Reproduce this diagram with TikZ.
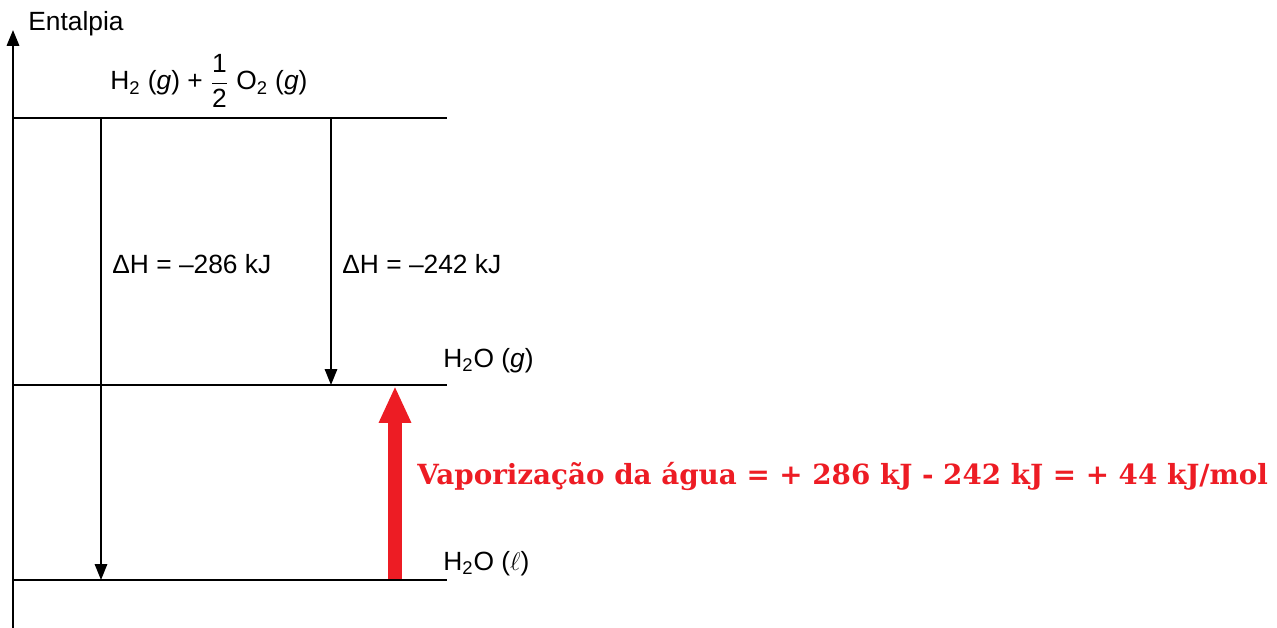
\documentclass[tikz,border=0pt]{standalone}
\usepackage{amsmath}
\usepackage{fontspec}
\setmainfont{Liberation Sans}
\newfontfamily\vapfont{DejaVu Serif}
\usepackage{xcolor}
\definecolor{VAPred}{HTML}{ED1C24}
\usetikzlibrary{arrows.meta}

\begin{document}
\begin{tikzpicture}[x=0.02cm, y=-0.02cm,
    font=\fontsize{15pt}{17pt}\selectfont,
    level/.style={line width=1.5pt},
    dh/.style={line width=1pt, -{Triangle[length=9pt,width=7pt]}},
    lbl/.style={anchor=base west, inner sep=0pt}]
  \useasboundingbox (0,0) rectangle (1277,628);
  % Axes
  \coordinate (axisB) at (13,628);
  \coordinate (axisT) at (13,30);
  \draw[line width=1.3pt, -{Triangle[length=9pt,width=7pt]}] (axisB) -- (axisT);
  \node[lbl] (entalpia) at (28,31) {Entalpia};
  % Levels
  \coordinate (reagL) at (13,118);  \coordinate (reagR) at (447,118);
  \coordinate (gasL) at (13,385);   \coordinate (gasR) at (447,385);
  \coordinate (liqL) at (13,580);   \coordinate (liqR) at (447,580);
  % Vaporization arrow
  \coordinate (vapS) at (395,580);
  \coordinate (vapE) at (395,386);
  \draw[VAPred, line width=8.5pt, -{Triangle[length=21pt,width=17pt]}] (vapS) -- (vapE);
  \draw[level] (reagL) -- (reagR);
  \draw[level] (gasL) -- (gasR);
  \draw[level] (liqL) -- (liqR);
  % Enthalpy changes
  \coordinate (dh1S) at (101,118);  \coordinate (dh1E) at (101,580);
  \coordinate (dh2S) at (331,118);  \coordinate (dh2E) at (331,385);
  \draw[dh] (dh1S) -- (dh1E);
  \draw[dh] (dh2S) -- (dh2E);
  % Labels
  \node[lbl] (reag) at (110,90)
    {H\textsubscript{2} (\textit{g}) + $\displaystyle\frac{\text{1}}{\text{2}}$ O\textsubscript{2} (\textit{g})};
  \node[lbl] (dh1) at (112,273) {ΔH = –286 kJ};
  \node[lbl] (dh2) at (342,273) {ΔH = –242 kJ};
  \node[lbl] (gas) at (443,367) {H\textsubscript{2}O (\textit{g})};
  \node[lbl] (liq) at (443,570) {H\textsubscript{2}O ($\ell$)};
  \node[lbl, VAPred, font=\vapfont\bfseries\fontsize{15.8pt}{18pt}\selectfont] (vap) at (417,484)
    {Vaporização da água = + 286 kJ - 242 kJ = + 44 kJ/mol};
\end{tikzpicture}
\end{document}
